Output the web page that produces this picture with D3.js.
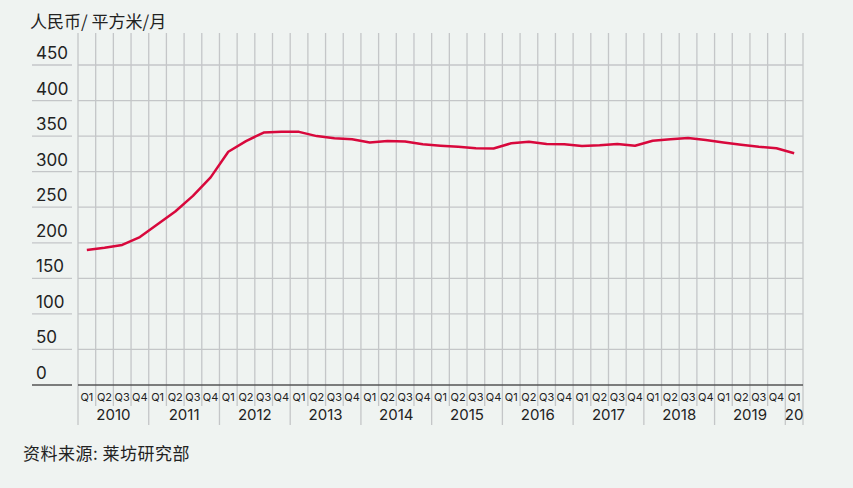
<!DOCTYPE html>
<html>
<head>
<meta charset="utf-8">
<script src="https://cdn.jsdelivr.net/npm/d3@7"></script>
<style>
  body { margin: 0; background: #eff3f1; }
  svg { display: block; }
  .ylab { font-family: Inter, "Noto Sans", sans-serif; font-size: 17px; fill: #222; }
  .qlab { font-family: Inter, "Noto Sans", sans-serif; font-size: 11px; fill: #222; }
  .yrlab { font-family: Inter, "Noto Sans", sans-serif; font-size: 15px; fill: #222; }
  .cjk { font-family: "Noto Sans CJK SC", sans-serif; font-size: 17px; fill: #222; }
</style>
</head>
<body>
<div id="chart"></div>
<script>
//---------------- data ----------------------
var years = ["2010", "2011", "2012", "2013", "2014", "2015", "2016", "2017", "2018", "2019", "2020"];
var quarterNames = ["Q1", "Q2", "Q3", "Q4"];
var yTicks = [0, 50, 100, 150, 200, 250, 300, 350, 400, 450];
// rent, RMB / sqm / month, 2010Q1 .. 2020Q1
var rent = [190, 193, 197, 208, 226, 244, 266, 292, 328, 343, 355, 356,
            356, 350, 347, 345.5, 341, 343, 342.5, 338.5, 336.5, 335, 333, 332.5,
            340, 342, 339, 338.5, 336, 337, 339, 336.5, 343.5, 345.5, 347.5, 344.5,
            341, 338, 335, 333, 326];
var yearLabels = ["2010", "2011", "2012", "2013", "2014", "2015", "2016", "2017", "2018", "2019", "20"];

var w = 853;
var h = 488;
var plotLeft = 78, plotRight = 803, plotTop = 33, plotBottom = 385;

var quarters = [];
years.forEach(function(y) {
	quarterNames.forEach(function(q) {
		if (quarters.length < rent.length) quarters.push(y + q);
	});
});

//---------------- scales ----------------------
var xScale = d3.scaleBand()
		.domain(quarters)
		.range([plotLeft, plotRight]);

var yScale = d3.scaleLinear()
		.domain([0, 495])
		.range([plotBottom, plotTop]);

var svg = d3.select("#chart").append("svg").attr("width", w).attr("height", h);

svg.append("rect").attr("width", w).attr("height", h).attr("fill", "#eff3f1");

// title
svg.append("text").attr("class", "cjk").attr("x", 30).attr("y", 28).text("人民币/ 平方米/月");

//---------------- grid ----------------------
var boundaries = quarters.map(function(q) { return xScale(q); }).concat([plotRight]);

svg.append("g").selectAll("line")
	.data(boundaries)
	.enter()
	.append("line")
	.attr("x1", function(d) { return d; })
	.attr("x2", function(d) { return d; })
	.attr("y1", plotTop)
	.attr("y2", function(d, i) { return (i % 4 === 0 || i === boundaries.length - 1) ? 425 : 406; })
	.attr("stroke", "#c4c6c8")
	.attr("stroke-width", 1.3);

svg.append("g").selectAll("line")
	.data(yTicks.filter(function(d) { return d > 0; }))
	.enter()
	.append("line")
	.attr("x1", plotLeft)
	.attr("x2", plotRight)
	.attr("y1", function(d) { return yScale(d); })
	.attr("y2", function(d) { return yScale(d); })
	.attr("stroke", "#c4c6c8")
	.attr("stroke-width", 1.3);

// y labels with short underline
var ylab = svg.append("g").selectAll("g")
	.data(yTicks)
	.enter()
	.append("g");

ylab.append("line")
	.attr("x1", 32).attr("x2", 72)
	.attr("y1", function(d) { return yScale(d); })
	.attr("y2", function(d) { return yScale(d); })
	.attr("stroke", function(d) { return d === 0 ? "#555" : "#c4c6c8"; })
	.attr("stroke-width", 1.3);

ylab.append("text")
	.attr("class", "ylab")
	.attr("x", 36)
	.attr("y", function(d) { return yScale(d) - 6; })
	.text(function(d) { return d; });

// axis line
svg.append("line")
	.attr("x1", plotLeft).attr("x2", plotRight)
	.attr("y1", plotBottom).attr("y2", plotBottom)
	.attr("stroke", "#555")
	.attr("stroke-width", 1.3);

// quarter labels
svg.append("g").selectAll("text")
	.data(quarters)
	.enter()
	.append("text")
	.attr("class", "qlab")
	.attr("x", function(d) { return xScale(d) + xScale.bandwidth() / 2; })
	.attr("y", 401)
	.attr("text-anchor", "middle")
	.text(function(d) { return d.slice(4); });

// year labels
svg.append("g").selectAll("text")
	.data(yearLabels)
	.enter()
	.append("text")
	.attr("class", "yrlab")
	.attr("x", function(d, i) {
		var qs = quarters.filter(function(q) { return q.slice(0, 4) === years[i]; });
		var x0 = xScale(qs[0]);
		var x1 = xScale(qs[qs.length - 1]) + xScale.bandwidth();
		return (x0 + x1) / 2;
	})
	.attr("y", 420)
	.attr("text-anchor", "middle")
	.text(function(d) { return d; });

//---------------- line ----------------------
var line = d3.line()
	.x(function(d, i) { return xScale(quarters[i]) + xScale.bandwidth() / 2; })
	.y(function(d) { return yScale(d); });

svg.append("path")
	.datum(rent)
	.attr("d", line)
	.attr("fill", "none")
	.attr("stroke", "#d8083c")
	.attr("stroke-width", 2.5)
	.attr("stroke-linejoin", "round");

// source
svg.append("text").attr("class", "cjk").attr("x", 23).attr("y", 460)
	.style("letter-spacing", "0.5px")
	.text("资料来源: 莱坊研究部");
</script>
</body>
</html>
